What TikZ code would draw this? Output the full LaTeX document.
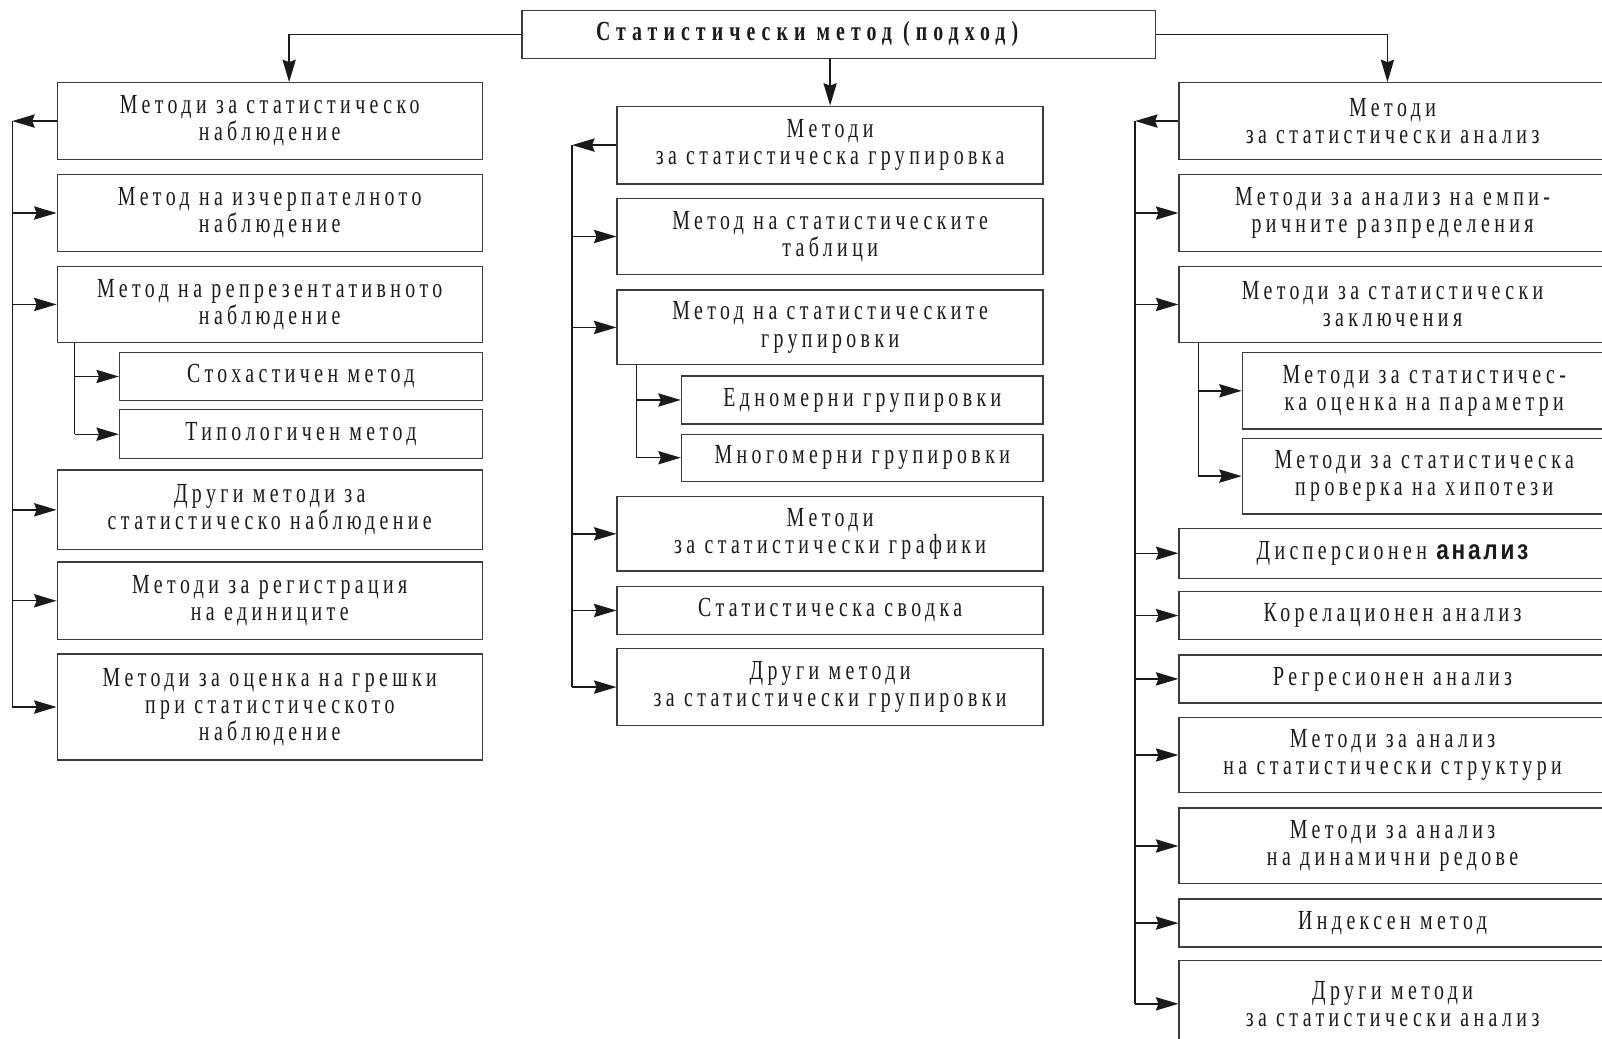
\documentclass[tikz,border=0pt]{standalone}
\usepackage{fontspec}
\setmainfont{Liberation Serif}[FakeStretch=0.72, LetterSpace=16]
\newfontfamily\sansbold{Liberation Sans}[FakeStretch=0.82, LetterSpace=10]
\usetikzlibrary{arrows.meta}
\definecolor{ink}{HTML}{1A1A1A}
\definecolor{edge}{HTML}{3C3C3C}
\tikzset{
  box/.style={draw=edge, line width=1.3pt, inner sep=0pt, align=center,
    font=\fontsize{27}{26.5}\selectfont, text=ink},
  conn/.style={draw=ink, line width=1.4pt},
  arr/.style={conn, -{Stealth[length=22pt,width=13pt,inset=2.5pt]}},
}
\begin{document}
\begin{tikzpicture}[x=1pt,y=-1pt]
\fill[white] (0,0) rectangle (1568,1016);
\useasboundingbox (0,0) rectangle (1568,1016);
% top
\node[box, minimum width=620pt, minimum height=47pt] (T) at (821,33.5)
  {\hspace*{-62pt}\bfseries\addfontfeatures{LetterSpace=22}Статистически метод (подход)};
% left column
\node[box, minimum width=416pt, minimum height=75pt] (L1) at (264,118.5) {Методи за статистическо\\наблюдение};
\node[box, minimum width=416pt, minimum height=75pt] (L2) at (264,208.5) {Метод на изчерпателното\\наблюдение};
\node[box, minimum width=416pt, minimum height=74pt] (L3) at (264,298) {Метод на репрезентативното\\наблюдение};
\node[box, minimum width=355pt, minimum height=47pt] (L3a) at (294.5,368.5) {Стохастичен метод};
\node[box, minimum width=355pt, minimum height=48pt] (L3b) at (294.5,425) {Типологичен метод};
\node[box, minimum width=416pt, minimum height=78pt] (L4) at (264,499) {Други методи за\\статистическо наблюдение};
\node[box, minimum width=416pt, minimum height=76pt] (L5) at (264,588) {Методи за регистрация\\на единиците};
\node[box, minimum width=416pt, minimum height=104pt] (L6) at (264,692) {Методи за оценка на грешки\\при статистическото\\наблюдение};
% middle column
\node[box, minimum width=417pt, minimum height=76pt] (M1) at (812.5,142) {Методи\\за статистическа групировка};
\node[box, minimum width=417pt, minimum height=75pt] (M2) at (812.5,231.5) {Метод на статистическите\\таблици};
\node[box, minimum width=417pt, minimum height=73pt] (M3) at (812.5,320.5) {Метод на статистическите\\групировки};
\node[box, minimum width=354pt, minimum height=47pt] (M3a) at (844,391.5) {Едномерни групировки};
\node[box, minimum width=354pt, minimum height=46pt] (M3b) at (844,448) {Многомерни групировки};
\node[box, minimum width=417pt, minimum height=73pt] (M4) at (812.5,522.5) {Методи\\за статистически графики};
\node[box, minimum width=417pt, minimum height=47pt] (M5) at (812.5,597.5) {Статистическа сводка};
\node[box, minimum width=417pt, minimum height=75pt] (M6) at (812.5,672.5) {Други методи\\за статистически групировки};
% right column
\node[box, minimum width=418pt, minimum height=75pt] (R1) at (1363,118.5) {Методи\\за статистически анализ};
\node[box, minimum width=418pt, minimum height=75pt] (R2) at (1363,208.5) {Методи за анализ на емпи-\\ричните разпределения};
\node[box, minimum width=418pt, minimum height=74pt] (R3) at (1363,298) {Методи за статистически\\заключения};
\node[box, minimum width=356pt, minimum height=75pt] (R3a) at (1394,382.5) {Методи за статистичес-\\ка оценка на параметри};
\node[box, minimum width=356pt, minimum height=74pt] (R3b) at (1394,466) {Методи за статистическа\\проверка на хипотези};
\node[box, minimum width=418pt, minimum height=49pt] (R4) at (1363,541.5) {Дисперсионен {\sansbold\bfseries анализ}};
\node[box, minimum width=418pt, minimum height=47pt] (R5) at (1363,602.5) {Корелационен анализ};
\node[box, minimum width=418pt, minimum height=47pt] (R6) at (1363,664.5) {Регресионен анализ};
\node[box, minimum width=418pt, minimum height=74pt] (R7) at (1363,739) {Методи за анализ\\на статистически структури};
\node[box, minimum width=418pt, minimum height=74pt] (R8) at (1363,828) {Методи за анализ\\на динамични редове};
\node[box, minimum width=418pt, minimum height=47pt] (R9) at (1363,903.5) {Индексен метод};
\node[box, minimum width=418pt, minimum height=85pt] (R10) at (1363,982.5) {Други методи\\за статистически анализ};
% bus coordinates
\coordinate (busL) at (12,0);
\coordinate (subL) at (73,0);
\coordinate (busM) at (560,0);
\coordinate (subM) at (623,0);
\coordinate (busR) at (1111,0);
\coordinate (subR) at (1173,0);
% top connectors
\draw[arr] (T.west) -| ([xshift=19pt]L1.north);
\draw[arr] (M1.north |- T.south) -- (M1.north);
\draw[arr] (T.east) -| ([xshift=-5pt]R1.north);
% left bus
\draw[arr] (L1.west) -- (L1.west -| busL);
\draw[conn] (L1.west -| busL) -- (L6.west -| busL);
\foreach \n in {L2,L3,L4,L5,L6} \draw[arr] (\n.west -| busL) -- (\n.west);
\draw[conn] (L3.south -| subL) -- (L3b.west -| subL);
\foreach \n in {L3a,L3b} \draw[arr] (\n.west -| subL) -- (\n.west);
% middle bus
\draw[arr] (M1.west) -- (M1.west -| busM);
\draw[conn] (M1.west -| busM) -- (M6.west -| busM);
\foreach \n in {M2,M3,M4,M5,M6} \draw[arr] (\n.west -| busM) -- (\n.west);
\draw[conn] (M3.south -| subM) -- (M3b.west -| subM);
\foreach \n in {M3a,M3b} \draw[arr] (\n.west -| subM) -- (\n.west);
% right bus
\draw[arr] (R1.west) -- (R1.west -| busR);
\draw[conn] (R1.west -| busR) -- (R10.west -| busR);
\foreach \n in {R2,R3,R4,R5,R6,R7,R8,R9,R10} \draw[arr] (\n.west -| busR) -- (\n.west);
\draw[conn] (R3.south -| subR) -- (R3b.west -| subR);
\foreach \n in {R3a,R3b} \draw[arr] (\n.west -| subR) -- (\n.west);
\end{tikzpicture}
\end{document}
